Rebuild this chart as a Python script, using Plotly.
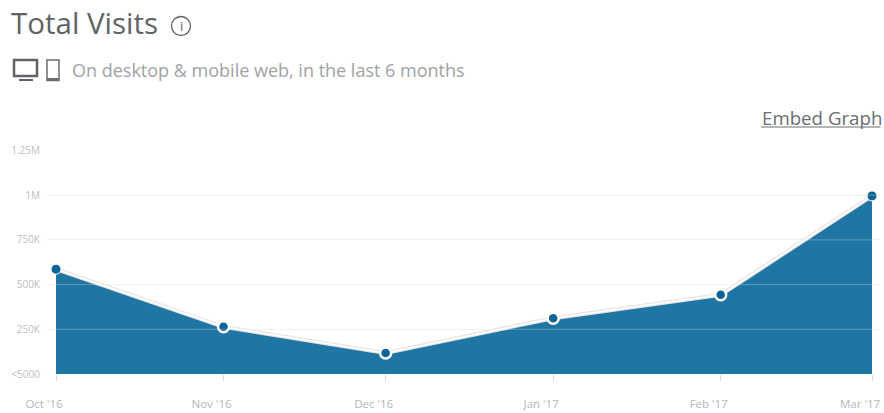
import plotly.graph_objects as go

dates = ["2016-10-01", "2016-11-01", "2016-12-01", "2017-01-01", "2017-02-01", "2017-03-01"]
month_labels = ["Oct '16", "Nov '16", "Dec '16", "Jan '17", "Feb '17", "Mar '17"]
visits = [586000, 264000, 118000, 312000, 443000, 996000]
y_ticks = [0, 250000, 500000, 750000, 1000000, 1250000]
y_labels = ["<5000", "250K", "500K", "750K", "1M", "1.25M"]

W, H = 884, 413
L, R, T, B = 47, 4, 150, 39
PW, PH = W - L - R, H - T - B

def px(x):
    return (x - L) / PW

def py(y):
    return (H - B - y) / PH

FONT = "Open Sans"
fig = go.Figure()
fig.add_trace(go.Scatter(x=dates, y=visits, mode="lines", line=dict(width=0), fill="tozeroy",
                         fillcolor="#1f75a3", hoverinfo="skip", showlegend=False))
fig.add_trace(go.Scatter(x=dates, y=visits, mode="lines", line=dict(color="#e8e6e4", width=4),
                         hoverinfo="skip", showlegend=False))
fig.add_trace(go.Scatter(x=dates, y=visits, mode="lines", line=dict(color="#ffffff", width=1.5),
                         hoverinfo="skip", showlegend=False))
fig.add_trace(go.Scatter(x=dates, y=visits, mode="markers",
                         marker=dict(color="#0f6496", size=[10, 11, 11, 11, 11, 10], opacity=1,
                                     line=dict(color="#ffffff", width=[1, 2.5, 2.5, 2.5, 2.5, 1])),
                         showlegend=False, cliponaxis=False))

shapes = []
for v in y_ticks[1:]:
    shapes.append(dict(type="line", xref="paper", yref="y", x0=0, x1=1, y0=v, y1=v, layer="above",
                       line=dict(color="rgba(255,255,255,0.28)", width=1)))

def rect(x0, y0, x1, y1, color="#5f6367", width=2, fill=None):
    shapes.append(dict(type="rect", xref="paper", yref="paper", x0=px(x0), x1=px(x1), y0=py(y0), y1=py(y1),
                       line=dict(color=color, width=width), fillcolor=fill, layer="above"))

# monitor icon
rect(14, 60, 37, 76, width=2.5)
rect(19, 79, 33, 81, width=0, fill="#5f6367")
# phone icon
rect(47, 60, 59, 80.5, color="#6a6e72", width=1.5)
rect(47, 78, 59, 80.5, color="#6a6e72", width=0, fill="#6a6e72")
# info icon ring
shapes.append(dict(type="circle", xref="paper", yref="paper", x0=px(171.5), x1=px(190.5), y0=py(16.5), y1=py(35.5),
                   line=dict(color="#5f6367", width=1.3), layer="above"))
# embed link underline
shapes.append(dict(type="line", xref="paper", yref="paper", x0=px(761), x1=px(880.5), y0=py(127), y1=py(127),
                   line=dict(color="#6a6e72", width=1), layer="above"))
fig.update_layout(shapes=shapes)

def label(x, y, text, size, color, anchor="left"):
    fig.add_annotation(xref="paper", yref="paper", x=px(x), y=py(y), text=text, showarrow=False,
                       xanchor=anchor, yanchor="middle", borderpad=0, borderwidth=0,
                       font=dict(family=FONT, size=size, color=color))

label(11, 23, "Total Visits", 29.5, "#5f6367")
label(181, 26, "i", 13, "#5f6367", "center")
label(72, 69.5, "On desktop &amp; mobile web, in the last 6 months", 18, "#a0a3a6")
label(882, 117, "Embed Graph", 18.7, "#6a6e72", "right")

fig.update_layout(
    width=W, height=H, margin=dict(l=L, r=R, t=T, b=B, pad=0),
    paper_bgcolor="#ffffff", plot_bgcolor="#ffffff", showlegend=False,
    xaxis=dict(type="date", range=["2016-09-29 08:00", "2017-03-02 11:30"], tickmode="array",
               tickvals=dates, ticktext=month_labels, showgrid=False, zeroline=False, automargin=False,
               ticks="outside", ticklen=6, tickcolor="#d5d7d9", tickwidth=1, showline=False,
               ticklabelshift=-12, ticklabelstandoff=13,
               tickfont=dict(family=FONT, size=11.5, color="#b4b6b8")),
    yaxis=dict(range=[0, 1252800], tickmode="array", tickvals=y_ticks, ticktext=y_labels,
               showgrid=True, gridcolor="#eeeff0", gridwidth=1, zeroline=False, showline=False, automargin=False,
               ticks="", ticklabelstandoff=6,
               tickfont=dict(family=FONT, size=10, color="#bcbec0")),
)
fig.write_html("out.html", config=dict(displayModeBar=False),
               post_script="document.body.style.margin='0';document.documentElement.style.overflow='hidden';")
